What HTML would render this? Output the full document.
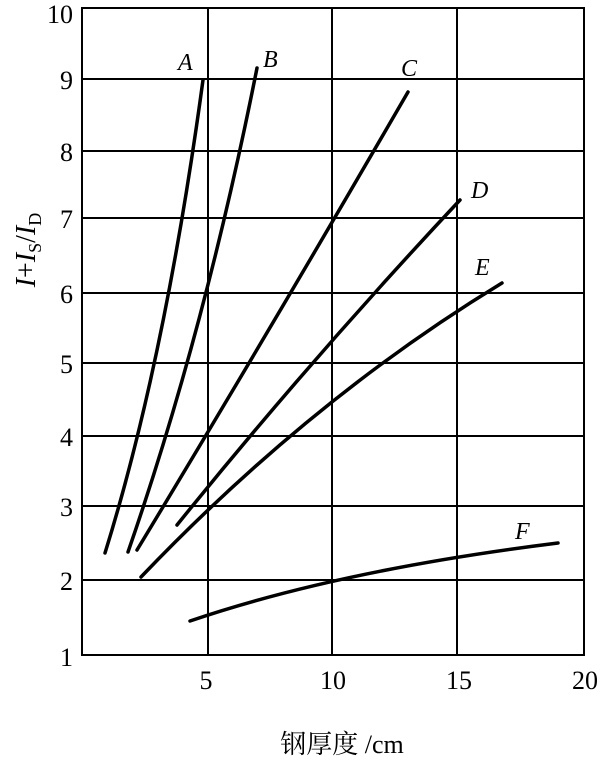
<!DOCTYPE html>
<html><head><meta charset="utf-8"><style>body{margin:0;background:#fff}</style></head><body>
<svg width="602" height="760" xmlns="http://www.w3.org/2000/svg" font-family="Liberation Serif, serif">
<g stroke="#000" stroke-width="2" fill="none">
<rect x="82" y="8" width="502" height="647"/>
<line x1="208" y1="8" x2="208" y2="655"/><line x1="332" y1="8" x2="332" y2="655"/><line x1="457" y1="8" x2="457" y2="655"/>
<line x1="82" y1="79" x2="584" y2="79"/><line x1="82" y1="151" x2="584" y2="151"/><line x1="82" y1="218" x2="584" y2="218"/>
<line x1="82" y1="293" x2="584" y2="293"/><line x1="82" y1="363" x2="584" y2="363"/><line x1="82" y1="436" x2="584" y2="436"/>
<line x1="82" y1="506" x2="584" y2="506"/><line x1="82" y1="580" x2="584" y2="580"/>
</g>
<g stroke="#000" stroke-width="3.5" fill="none" stroke-linecap="round">
<path d="M105,553 Q165,360 203,80"/>
<path d="M128,552 Q205,330 257,68"/>
<path d="M137,550 Q270,330 408,92"/>
<path d="M177,525 Q310,360 460,200"/>
<path d="M141,577 Q310,400 502,283"/>
<path d="M190,621 Q340,570 558,543"/>
</g>
<g font-size="24" font-style="italic">
<text x="178" y="70">A</text><text x="263" y="67">B</text><text x="401" y="76">C</text>
<text x="471" y="198">D</text><text x="475" y="275">E</text><text x="515" y="539">F</text>
</g>
<g font-size="26" text-anchor="end">
<text x="73" y="23">10</text><text x="73" y="89">9</text><text x="73" y="161">8</text><text x="73" y="228">7</text>
<text x="73" y="303">6</text><text x="73" y="373">5</text><text x="73" y="446">4</text><text x="73" y="516">3</text>
<text x="73" y="590">2</text><text x="73" y="666">1</text>
</g>
<g font-size="26" text-anchor="middle">
<text x="206" y="689">5</text><text x="333" y="689">10</text><text x="459" y="689">15</text><text x="585" y="689">20</text>
</g>
<text x="342" y="753" font-size="26" text-anchor="middle" font-family="Liberation Serif, Noto Serif CJK SC, serif">钢厚度 /cm</text>
<text transform="translate(35,250) rotate(-90)" font-size="28" text-anchor="middle"><tspan font-style="italic">I</tspan>+<tspan font-style="italic">I</tspan><tspan font-size="18" dy="6">S</tspan><tspan dy="-6">/</tspan><tspan font-style="italic">I</tspan><tspan font-size="18" dy="6">D</tspan></text>
</svg>
</body></html>
